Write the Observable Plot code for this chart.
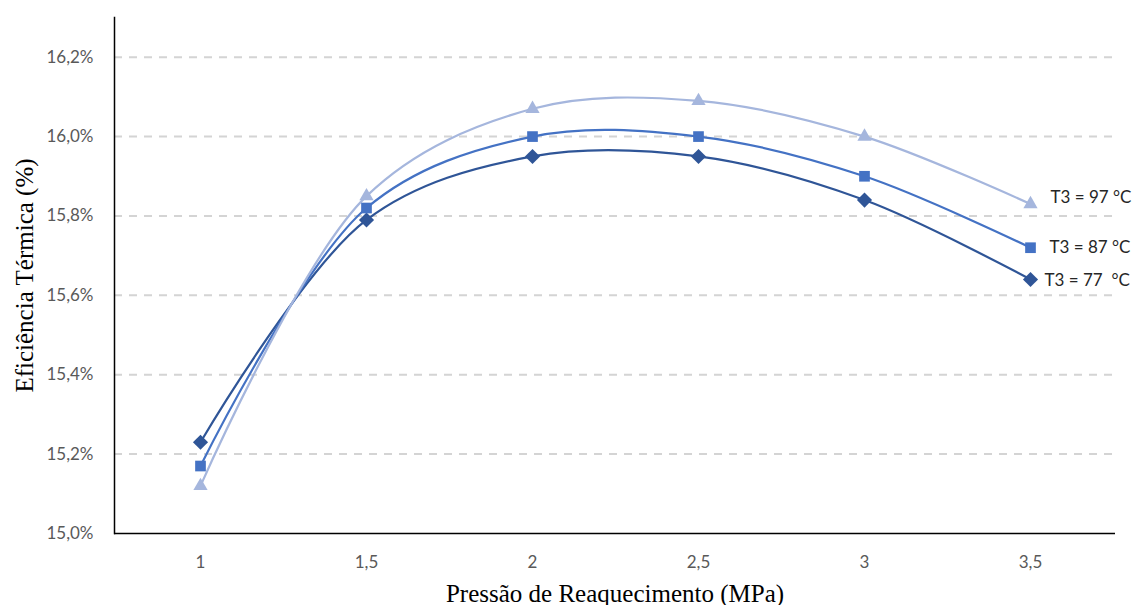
<!DOCTYPE html>
<html>
<head>
<meta charset="utf-8">
<script src="https://cdn.jsdelivr.net/npm/d3@7"></script>
<script src="https://cdn.jsdelivr.net/npm/@observablehq/plot@0.6"></script>
<style>
  html, body { margin: 0; padding: 0; background: #fff; }
</style>
</head>
<body>
<div id="chart"></div>
<script>
const pressures = [1, 1.5, 2, 2.5, 3, 3.5];
const seriesNames = ["T3 = 77  °C", "T3 = 87 °C", "T3 = 97 °C"];
const t77 = [15.23, 15.79, 15.95, 15.95, 15.84, 15.64];
const t87 = [15.17, 15.82, 16.00, 16.00, 15.90, 15.72];
const t97 = [15.12, 15.85, 16.07, 16.09, 16.00, 15.83];
const yTicks = [15.0, 15.2, 15.4, 15.6, 15.8, 16.0, 16.2];
const gridTicks = [15.2, 15.4, 15.6, 15.8, 16.0, 16.2];
const colors = ["#2F5597", "#4472C4", "#A5B6DD"];
const symbols = ["diamond2", "square2", "triangle2"];

const seriesValues = [t77, t87, t97];
const data = seriesNames.flatMap((s, i) =>
  pressures.map((p, j) => ({series: s, p, v: seriesValues[i][j]}))
);
const lastP = pressures[pressures.length - 1];
const lastOf = name => data.filter(d => d.p === lastP && d.series === name);

const comma = d => String(d).replace(".", ",");
const pct = d => d.toFixed(1).replace(".", ",") + "%";
const serif = "'Liberation Serif', 'Times New Roman', serif";

const labelMark = (name, dx, dy) => Plot.text(lastOf(name), {
  x: "p", y: "v", text: "series", textAnchor: "start", dx, dy, fill: "#262626", fontSize: 17
});

const chart = Plot.plot({
  width: 1137,
  height: 605,
  marginLeft: 114,
  marginRight: 22,
  marginTop: 17,
  marginBottom: 72,
  style: {fontFamily: "Lato, 'Open Sans', sans-serif", fontSize: "17px", color: "#595959", background: "#fff"},
  x: {type: "point", domain: pressures, padding: 0.5, align: 0.5},
  y: {domain: [15.0, 16.3]},
  color: {domain: seriesNames, range: colors},
  symbol: {domain: seriesNames, range: symbols},
  marks: [
    Plot.gridY(gridTicks, {stroke: "#d4d4d4", strokeOpacity: 1, strokeWidth: 2, strokeDasharray: "8,7"}),
    Plot.axisX({ticks: pressures, tickFormat: comma, tickSize: 0, tickPadding: 22, label: null, fill: "#595959", fontSize: 17}),
    Plot.axisY({ticks: yTicks, tickFormat: pct, tickSize: 0, tickPadding: 21, label: null, fill: "#595959", fontSize: 17}),
    Plot.lineY(data, {x: "p", y: "v", z: "series", stroke: "series", strokeWidth: 2.2, curve: "catmull-rom"}),
    Plot.dot(data, {x: "p", y: "v", symbol: "series", fill: "series", stroke: null, r: 6.8}),
    labelMark(seriesNames[2], 20, -7),
    labelMark(seriesNames[1], 19, 0),
    labelMark(seriesNames[0], 14, 1),
    Plot.ruleY([15.0], {stroke: "#000", strokeWidth: 1.5}),
    Plot.frame({anchor: "left", stroke: "#000", strokeWidth: 1.5}),
    Plot.text(["Eficiência Térmica (%)"], {frameAnchor: "left", textAnchor: "middle", lineAnchor: "middle", rotate: -90, dx: -90, fontFamily: serif, fontSize: 25, fill: "#000"}),
    Plot.text(["Pressão de Reaquecimento (MPa)"], {frameAnchor: "bottom", textAnchor: "middle", lineAnchor: "middle", dy: 60, fontFamily: serif, fontSize: 25, fill: "#000"})
  ]
});
document.getElementById("chart").appendChild(chart);
</script>
</body>
</html>
